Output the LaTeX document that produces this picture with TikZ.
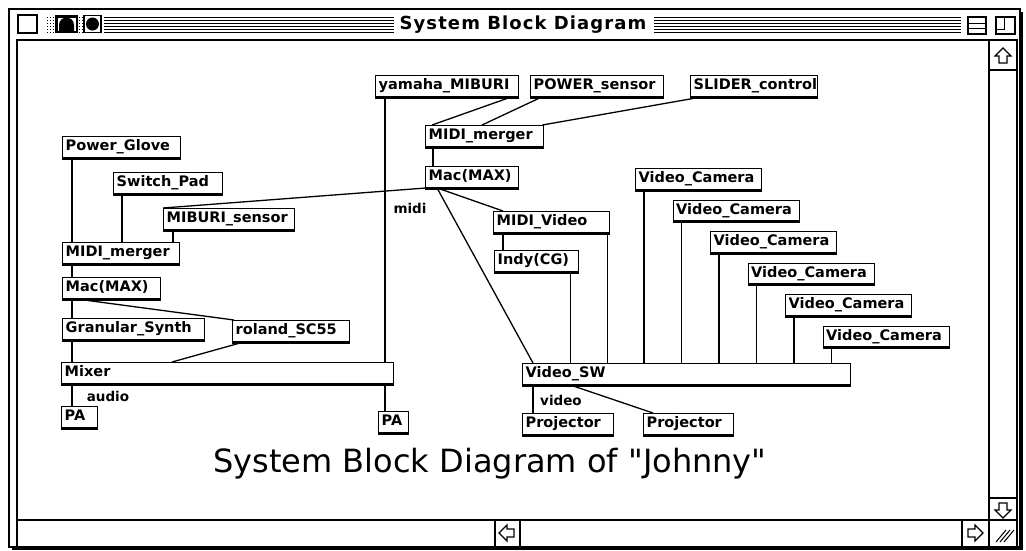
\documentclass[tikz,border=0pt]{standalone}
\usepackage{fontspec}
\newfontfamily\maxfont{DejaVu Sans}
\newfontfamily\barfont[LetterSpace=6]{DejaVu Sans}
\usetikzlibrary{calc}

\begin{document}
\begin{tikzpicture}[x=1pt,y=-1pt,
  maxbox/.style={draw, line width=1.4pt, fill=white, anchor=north west,
    text width=#1, align=left, inner xsep=3pt, inner ysep=2.5pt,
    text height=11.5pt, text depth=4pt,
    font=\maxfont\bfseries\fontsize{14.5}{16}\selectfont},
  wire/.style={line width=1.3pt},
  tag/.style={font=\maxfont\bfseries\fontsize{13.5}{15}\selectfont, inner sep=0pt},
  chrome/.style={line width=1.2pt},
  sbarrow/.pic={\draw[line width=1.1pt, line join=miter] (0,-8) -- (8,0) -- (4,0) -- (4,7) -- (-4,7) -- (-4,0) -- (-8,0) -- cycle;}]
\useasboundingbox (0,0) rectangle (1026,550);
\fill[white] (0,0) rectangle (1026,550);

% window frame
\draw[chrome] (9,9) rectangle (1020,547);
\draw[line width=1.5pt] (1022,12) -- (1022,549) -- (12,549);
\draw[line width=2pt] (17,546) -- (17,40) -- (1017,40) -- (1017,546);
\draw[chrome] (18,15) rectangle (37,33);
\fill (55,15) rectangle (78,33);
\fill[white] (57.5,17.5) rectangle (75.5,31);
\fill (59,31) -- (59,25) arc[start angle=180, end angle=360, radius=7.5] -- (74,31) -- cycle;
\draw[chrome] (84,15.5) rectangle (101,32.5);
\fill (92.5,24) circle[radius=6.5];
\foreach \yy in {17,20,...,32} {
  \draw[line width=0.9pt] (104,\yy) -- (394,\yy);
  \draw[line width=0.9pt] (654,\yy) -- (961,\yy);
  \draw[line width=0.9pt, dotted] (47,\yy) -- (54,\yy);
  \draw[line width=0.9pt, dotted] (79,\yy) -- (83,\yy);
}
\node[font=\barfont\bfseries\fontsize{18}{20}\selectfont] (wintitle) at (523,25) {System Block Diagram};
\draw[chrome] (968,17) rectangle (986,34);
\draw[line width=1pt] (968,23.5) -- (986,23.5) (968,28.5) -- (986,28.5);
\draw[chrome] (996,17) rectangle (1015,34);
\draw[line width=1pt] (996,29) -- (1004,29) -- (1004,17);

% scroll bars
\draw[chrome] (989,40) -- (989,547);
\draw[chrome] (989,70) -- (1017,70) (989,498) -- (1017,498);
\draw[line width=1.5pt] (17,520) -- (1017,520);
\draw[chrome] (962,520) -- (962,547) (495,520) -- (495,547) (520,520) -- (520,547);
\pic at (1003,56) {sbarrow};
\pic[rotate=180] at (1003,510) {sbarrow};
\pic[rotate=-90] at (975,533) {sbarrow};
\pic[rotate=90] at (507,533) {sbarrow};
\foreach \dd in {0,4,8} \draw[line width=1pt] (996+\dd,542) -- (1006+\dd,530);

% connections first, boxes on top
\coordinate (glovout) at (72,158);
\coordinate (swout) at (122,194);
\coordinate (mibout) at (173,230);
\coordinate (yamout) at (385,97);

% left patch
\node[maxbox=112pt] (pglove) at (62,136) {Power\_Glove};
\node[maxbox=103pt] (swpad) at (113,172) {Switch\_Pad};
\node[maxbox=125pt] (mibsens) at (163,208) {MIBURI\_sensor};
\node[maxbox=111pt] (mergerL) at (62,242) {MIDI\_merger};
\node[maxbox=92pt] (macL) at (62,277) {Mac(MAX)};
\node[maxbox=136pt] (gsynth) at (62,318) {Granular\_Synth};
\node[maxbox=111pt] (roland) at (232,320) {roland\_SC55};
\node[maxbox=326pt] (mixer) at (61,362) {Mixer};
\node[maxbox=30pt] (paL) at (61,406) {PA};
\node[maxbox=24pt] (paR) at (378,411) {PA};

% middle patch
\node[maxbox=137pt] (yamaha) at (375,75) {yamaha\_MIBURI};
\node[maxbox=127pt] (pwrsens) at (530,75) {POWER\_sensor};
\node[maxbox=121pt] (slider) at (690,75) {SLIDER\_control};
\node[maxbox=112pt] (mergerR) at (425,125) {MIDI\_merger};
\node[maxbox=87pt] (macR) at (425,166) {Mac(MAX)};
\node[maxbox=110pt] (midivid) at (493,211) {MIDI\_Video};
\node[maxbox=78pt] (indy) at (494,250) {Indy(CG)};
\foreach \i in {1,...,6}
  \node[maxbox=120pt] (cam\i) at ({597.5+37.5*\i},{136.5+31.5*\i}) {Video\_Camera};
\node[maxbox=322pt] (vsw) at (522,363) {Video\_SW};
\node[maxbox=85pt] (projA) at (522,413) {Projector};
\node[maxbox=84pt] (projB) at (643,413) {Projector};

% heavy lower edges
\foreach \n in {pglove,swpad,mibsens,mergerL,macL,gsynth,roland,mixer,paL,paR,
  yamaha,pwrsens,slider,mergerR,macR,midivid,indy,cam1,cam2,cam3,cam4,cam5,cam6,vsw,projA,projB}
  \draw[line width=2.6pt] ([yshift=-0.6pt]\n.south west) -- ([yshift=-0.6pt]\n.south east);

% connections
\draw[wire] (glovout |- pglove.south) -- (glovout |- mergerL.north);
\draw[wire] (swout |- swpad.south) -- (swout |- mergerL.north);
\draw[wire] (mibout |- mibsens.south) -- (mibout |- mergerL.north);
\draw[wire] ([xshift=10pt]mergerL.south west) -- ([xshift=10pt]macL.north west);
\draw[wire] ([xshift=10pt]macL.south west) -- ([xshift=10pt]gsynth.north west);
\draw[wire] ([xshift=14pt]macL.south west) -- ([xshift=2pt]roland.north west);
\draw[wire] ([xshift=10pt]gsynth.south west) -- ([xshift=11pt]mixer.north west);
\draw[wire] ([xshift=12pt]roland.south west) -- ([xshift=111pt]mixer.north west);
\draw[wire] ([xshift=11pt]mixer.south west) -- ([xshift=11pt]paL.north west);
\draw[wire] (yamout |- yamaha.south) -- (yamout |- mixer.north);
\draw[wire] (yamout |- mixer.south) -- (yamout |- paR.north);
\draw[wire] ([xshift=-8pt]yamaha.south east) -- ([xshift=7pt]mergerR.north west);
\draw[wire] ([xshift=12pt]pwrsens.south west) -- ([xshift=57pt]mergerR.north west);
\draw[wire] ([xshift=12pt]slider.south west) -- ([xshift=-2pt]mergerR.north east);
\draw[wire] ([xshift=8pt]mergerR.south west) -- ([xshift=8pt]macR.north west);
\draw[wire] ([xshift=2pt]macR.south west) -- (mibsens.north west);
\draw[wire] ([xshift=12pt]macR.south west) -- ([xshift=10pt]midivid.north west);
\draw[wire] ([xshift=12pt]macR.south west) -- ([xshift=11pt]vsw.north west);
\draw[wire] ([xshift=10pt]midivid.south west) -- ([xshift=9pt]indy.north west);
\coordinate (mvout) at ([xshift=-3pt]midivid.south east);
\coordinate (indyout) at ([xshift=-9pt]indy.south east);
\draw[wire] (mvout) -- (mvout |- vsw.north);
\draw[wire] (indyout) -- (indyout |- vsw.north);
\foreach \i in {1,...,6} {
  \coordinate (camout\i) at ([xshift=9pt]cam\i.south west);
  \draw[wire] (camout\i) -- (camout\i |- vsw.north);
}
\draw[wire] ([xshift=11pt]vsw.south west) -- ([xshift=11pt]projA.north west);
\draw[wire] ([xshift=48pt]vsw.south west) -- ([xshift=10pt]projB.north west);

\node[tag] (midilbl) at (410,208) {midi};
\node[tag] (audiolbl) at (108,396) {audio};
\node[tag] (videolbl) at (561,400) {video};

\node[font=\maxfont\fontsize{32}{36}\selectfont] (caption) at (490,464) {System Block Diagram of "Johnny"};
\end{tikzpicture}
\end{document}
